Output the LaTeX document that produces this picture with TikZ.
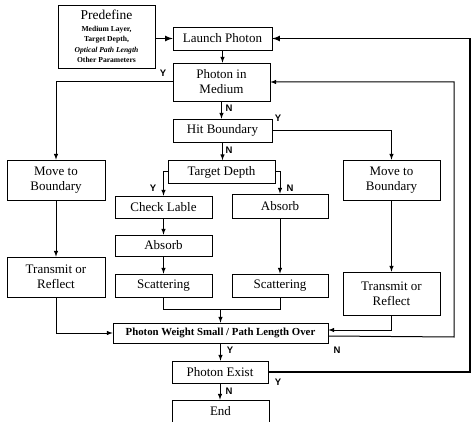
\documentclass[tikz,border=0pt]{standalone}
\usepackage{fontspec}
\setmainfont{Liberation Serif}
\newfontfamily\yesnofont{Liberation Sans}
\usepackage{xcolor}
\usetikzlibrary{arrows}

\begin{document}
\begin{tikzpicture}[x=1pt,y=-1pt,
  box/.style={draw,line width=0.7pt,inner sep=1pt,align=center,
    font=\fontsize{13}{15}\selectfont},
  flow/.style={-latex,line width=1pt},
  heavy/.style={-latex,line width=1.6pt},
  yn/.style={font=\yesnofont\bfseries\fontsize{9.5}{10}\selectfont,inner sep=1pt}]
\useasboundingbox (0,0) rectangle (471,422);
% boxes
\node[box,minimum width=97pt,minimum height=63pt,
  font=\fontsize{7.6}{10.4}\selectfont\bfseries] (pre) at (106.5,36.5)
  {{\fontsize{13.5}{15}\selectfont\mdseries Predefine}\\[1.5pt]
   Medium Layer,\\ Target Depth,\\ \textit{Optical Path Length}\\ Other Parameters};
\node[box,minimum width=99pt,minimum height=23pt] (launch) at (222.5,38.5) {Launch Photon};
\node[box,minimum width=97pt,minimum height=38pt] (med) at (221.5,82) {Photon in\\ Medium};
\node[box,minimum width=99pt,minimum height=23pt] (hit) at (222.5,130.5) {Hit Boundary};
\node[box,minimum width=107pt,minimum height=23pt] (tgt) at (221.5,172) {Target Depth};
\node[box,minimum width=98pt,minimum height=40pt] (movl) at (56,180) {Move to\\ Boundary};
\node[box,minimum width=97pt,minimum height=40pt] (movr) at (391.5,180) {Move to\\ Boundary};
\node[box,minimum width=97pt,minimum height=22pt] (chk) at (163.5,207) {Check Lable};
\node[box,minimum width=96pt,minimum height=24pt] (absr) at (280,206) {Absorb};
\node[box,minimum width=97pt,minimum height=21pt] (absl) at (163.5,245.5) {Absorb};
\node[box,minimum width=97pt,minimum height=23pt] (scl) at (163.5,285.5) {Scattering};
\node[box,minimum width=96pt,minimum height=23pt] (scr) at (280,285.5) {Scattering};
\node[box,minimum width=98pt,minimum height=40pt] (trl) at (56,277) {Transmit or\\ Reflect};
\node[box,minimum width=97pt,minimum height=43pt] (trr) at (391.5,293.5) {Transmit or\\ Reflect};
\node[box,minimum width=215pt,minimum height=20pt,
  font=\fontsize{10.8}{12}\selectfont\bfseries] (wt) at (220.5,333)
  {Photon Weight Small / Path Length Over};
\node[box,minimum width=96pt,minimum height=22pt] (ex) at (220,372) {Photon Exist};
\node[box,minimum width=97pt,minimum height=22pt] (end) at (220.5,411) {End};
% corners of the long connectors
\coordinate (mrg) at (220.5,309);
\coordinate (nloop) at (454,337);
\coordinate (yloop) at (470,372);
% connectors
\draw[heavy] (pre.east |- launch.west) -- (launch.west);
\draw[flow] (launch.south) -- (launch.south |- med.north);
\draw[flow] (med.west) -| (movl.north);
\draw[flow] (med.south) -- (med.south |- hit.north);
\draw[flow] (hit.east) -| (movr.north);
\draw[flow] (hit.south) -- (hit.south |- tgt.north);
\draw[flow] (tgt.west) -| (chk.north);
\draw[flow] (tgt.east) -| (absr.north);
\foreach \a/\b in {chk/absl,absl/scl,absr/scr,movl/trl,movr/trr}
\draw[flow] (\a.south) -- (\b.north);
\draw[line width=1pt] (scl.south) |- (mrg);
\draw[line width=1pt] (scr.south) |- (mrg);
\draw[flow] (mrg) -- (wt.north);
\draw[flow] (trl.south) |- (wt.west);
\draw[flow] (trr.south) |- ([yshift=3pt]wt.east);
\draw[flow] ([yshift=-3pt]wt.east) -- (nloop) |- (med.east);
\draw[flow] (wt.south) -- (wt.south |- ex.north);
\draw[heavy] (ex.east) -- (yloop) |- (launch.east);
\draw[flow] (ex.south) -- (ex.south |- end.north);
% Y / N labels
\node[yn] (y1) at (163,73) {Y};
\node[yn] (n1) at (229,108) {N};
\node[yn] (y2) at (278,118) {Y};
\node[yn] (n2) at (229,150) {N};
\node[yn] (y3) at (153,188) {Y};
\node[yn] (n3) at (290,188) {N};
\node[yn] (y4) at (230,350) {Y};
\node[yn] (n4) at (337,350) {N};
\node[yn] (y5) at (278,382) {Y};
\node[yn] (n5) at (229,391) {N};
\end{tikzpicture}
\end{document}
